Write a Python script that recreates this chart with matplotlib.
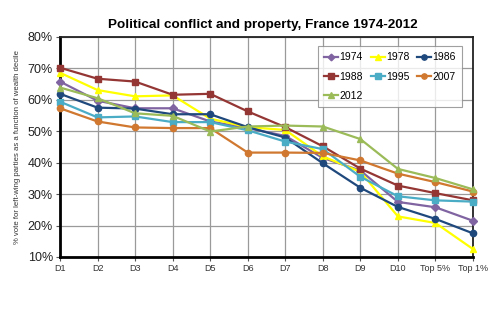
import numpy as np
import matplotlib.pyplot as plt

plt.rcParams['font.family'] = ['Liberation Sans', 'DejaVu Sans']

# wealth deciles
deciles = ['D1', 'D2', 'D3', 'D4', 'D5', 'D6', 'D7', 'D8', 'D9', 'D10', 'Top 5%', 'Top 1%']

# % vote for left-wing parties
v1974 = [65.8, 59.7, 57.3, 57.3, 53.1, 51.0, 48.5, 41.5, 37.5, 27.5, 25.8, 21.5]
v1978 = [68.6, 63.1, 61.1, 61.4, 54.0, 51.3, 50.4, 42.0, 37.1, 22.9, 20.8, 12.5]
v1986 = [61.9, 57.5, 57.2, 55.4, 55.4, 51.3, 48.0, 39.8, 32.0, 25.9, 22.1, 17.5]
v1988 = [70.2, 66.7, 65.8, 61.6, 61.9, 56.3, 51.3, 45.2, 38.1, 32.7, 30.3, 28.0]
v1995 = [59.4, 54.4, 54.7, 52.9, 52.9, 50.3, 46.7, 44.3, 35.5, 29.3, 28.0, 27.6]
v2007 = [57.3, 53.1, 51.2, 51.0, 51.0, 43.2, 43.2, 43.1, 40.7, 36.5, 33.8, 30.8]
v2012 = [63.9, 60.5, 55.7, 54.9, 49.9, 51.5, 51.8, 51.5, 47.5, 38.0, 35.1, 31.5]

series = [
    ('1974', v1974, '#8064A2', 'D'),
    ('1978', v1978, '#FFFF00', '^'),
    ('1986', v1986, '#1F497D', 'o'),
    ('1988', v1988, '#943634', 's'),
    ('1995', v1995, '#4BACC6', 's'),
    ('2007', v2007, '#D0782F', 'o'),
    ('2012', v2012, '#9BBB59', '^'),
]

fig = plt.figure(figsize=(5.0, 3.24), dpi=100)
ax = fig.add_axes([0.12, 0.207, 0.826, 0.679])

x = np.arange(len(deciles))
lines = {}
for name, vals, col, mk in series:
    ms = 4.5 if mk != 'D' else 4
    ln, = ax.plot(x, np.array(vals) / 100, color=col, marker=mk, markersize=ms,
                  linewidth=1.6, label=name, clip_on=False, zorder=3)
    lines[name] = ln

ax.set_xlim(0, len(deciles) - 1)
ax.set_ylim(0.10, 0.80)
ax.set_yticks(np.arange(0.1, 0.81, 0.1))
ax.set_yticklabels(['%d%%' % v for v in range(10, 81, 10)], fontsize=9, color='#222222')
ax.set_xticks(x)
ax.set_xticklabels(deciles, fontsize=6.5, color='#333333')
ax.tick_params(axis='both', length=3, width=0.8, color='#555555', pad=2)

ax.grid(True, color='#9a9a9a', linewidth=0.9)
ax.set_axisbelow(True)
for side in ['left', 'bottom']:
    ax.spines[side].set_linewidth(2)
    ax.spines[side].set_color('black')
for side in ['top', 'right']:
    ax.spines[side].set_linewidth(1.3)
    ax.spines[side].set_color('#222222')

ax.set_ylabel('% vote for left-wing parties as a function of wealth decile',
              fontsize=5.6, color='#333333', labelpad=5)

fig.text(0.525, 0.923, 'Political conflict and property, France 1974-2012',
         ha='center', va='center', fontsize=9.7, fontweight='bold')

# legend filled row by row like the original
order = ['1974', '1988', '2012', '1978', '1995', '1986', '2007']
leg = ax.legend([lines[k] for k in order], order, loc='upper left',
                bbox_to_anchor=(0.625, 0.959), borderaxespad=0, ncol=3,
                fontsize=7.5, frameon=True, fancybox=False, handlelength=1.35,
                handletextpad=0.1, columnspacing=0.75, labelspacing=0.9,
                borderpad=0.6, markerscale=0.85)
leg.get_frame().set_edgecolor('#888888')
leg.get_frame().set_linewidth(0.8)

fig.savefig('out.png', dpi=100)
